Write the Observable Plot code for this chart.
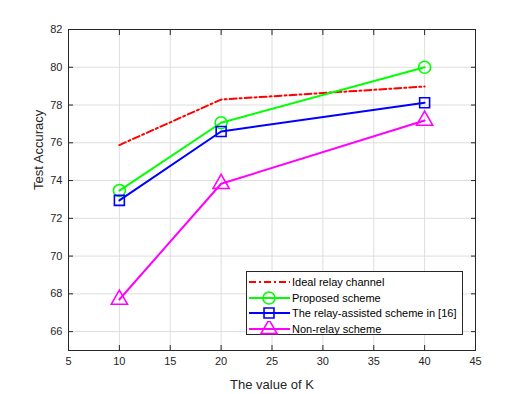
<!DOCTYPE html>
<html>
<head>
<meta charset="utf-8">
<script src="https://cdn.jsdelivr.net/npm/d3@7"></script>
<script src="https://cdn.jsdelivr.net/npm/@observablehq/plot@0.6"></script>
<style>
  html, body { margin: 0; padding: 0; background: #fff; }
  #wrap { position: relative; width: 525px; height: 394px; font-family: "Liberation Sans", Arial, sans-serif; }
  #legend { position: absolute; left: 246px; top: 271px; width: 217px; height: 64px; border: 1px solid #262626; background: #fff; box-sizing: border-box; }
  #legend .row { position: absolute; left: 0; height: 16px; display: flex; align-items: center; font-size: 11px; color: #000; white-space: nowrap; }
  #legend svg { display: block; flex: none; }
</style>
</head>
<body>
<div id="wrap"></div>
<script>
const K = [10, 20, 40];
const ideal = [75.88, 78.29, 78.98];
const proposed = [73.47, 77.06, 80.0];
const relayAssisted = [72.95, 76.6, 78.12];
const nonRelay = [67.7, 73.83, 77.18];
const seriesNames = ["Ideal relay channel", "Proposed scheme", "The relay-assisted scheme in [16]", "Non-relay scheme"];
const seriesValues = [ideal, proposed, relayAssisted, nonRelay];
const seriesColors = ["#ff0000", "#00ff00", "#0000ff", "#ff00ff"];
const seriesSymbols = [null, "circle", "square", "triangle"];
const xTicks = [5, 10, 15, 20, 25, 30, 35, 40, 45];
const yTicks = [66, 68, 70, 72, 74, 76, 78, 80, 82];

const data = [];
seriesNames.forEach((name, i) => {
  K.forEach((k, j) => data.push({series: name, idx: i, k, v: seriesValues[i][j]}));
});

const font = '"Liberation Sans", Arial, sans-serif';
const axisColor = "#262626";

const marks = [
  Plot.gridX(xTicks, {stroke: "#dedede", strokeOpacity: 1}),
  Plot.gridY(yTicks, {stroke: "#dedede", strokeOpacity: 1}),
  Plot.axisX(xTicks, {anchor: "bottom", tickSize: -5, tickPadding: 12, fontSize: 11, color: axisColor, label: null}),
  Plot.axisX(xTicks, {anchor: "top", tickSize: -5, tickFormat: () => "", label: null, color: axisColor}),
  Plot.axisY(yTicks, {anchor: "left", tickSize: -5, tickPadding: 11, fontSize: 11, color: axisColor, label: null}),
  Plot.axisY(yTicks, {anchor: "right", tickSize: -5, tickFormat: () => "", label: null, color: axisColor}),
  Plot.text(["The value of K"], {frameAnchor: "bottom", dy: 38, fontSize: 13, fill: axisColor, text: d => d}),
  Plot.text(["Test Accuracy"], {frameAnchor: "left", dx: -30, rotate: -90, fontSize: 13, fill: axisColor, text: d => d}),
  Plot.frame({stroke: axisColor, strokeWidth: 1})
];
seriesNames.forEach((name, i) => {
  const d = data.filter(r => r.idx === i);
  marks.push(Plot.line(d, {x: "k", y: "v", stroke: seriesColors[i], strokeWidth: 2,
    strokeDasharray: i === 0 ? "7,3,2,3" : null}));
  if (seriesSymbols[i]) {
    marks.push(Plot.dot(d, {x: "k", y: "v", stroke: seriesColors[i], strokeWidth: 1.6, fill: "none",
      symbol: seriesSymbols[i], r: seriesSymbols[i] === "circle" ? 6 : (seriesSymbols[i] === "square" ? 5.6 : 6)}));
  }
});

const chart = Plot.plot({
  width: 525, height: 394,
  marginLeft: 68, marginRight: 50, marginTop: 29, marginBottom: 44,
  style: {fontFamily: font, fontSize: "12px", color: axisColor, background: "#fff"},
  x: {domain: [5, 45], label: null},
  y: {domain: [65, 82], label: null},
  marks
});
const wrap = document.getElementById("wrap");
wrap.appendChild(chart);

// legend
const legend = document.createElement("div");
legend.id = "legend";
const rowY = [2, 18, 33, 49];
seriesNames.forEach((name, i) => {
  const row = document.createElement("div");
  row.className = "row";
  row.style.top = rowY[i] + "px";
  const svg = d3.create("svg").attr("width", 44).attr("height", 16);
  svg.append("line").attr("x1", 2).attr("x2", 43).attr("y1", 8).attr("y2", 8)
    .attr("stroke", seriesColors[i]).attr("stroke-width", 2)
    .attr("stroke-dasharray", i === 0 ? "7,3,2,3" : null);
  if (seriesSymbols[i]) {
    const sym = {circle: d3.symbolCircle, square: d3.symbolSquare, triangle: d3.symbolTriangle}[seriesSymbols[i]];
    const r = seriesSymbols[i] === "circle" ? 6 : (seriesSymbols[i] === "square" ? 5.6 : 6);
    svg.append("path").attr("d", d3.symbol(sym, Math.PI * r * r)())
      .attr("transform", "translate(22,8)").attr("fill", "none")
      .attr("stroke", seriesColors[i]).attr("stroke-width", 1.6);
  }
  row.appendChild(svg.node());
  const t = document.createElement("span");
  t.textContent = name;
  t.style.marginLeft = "1px";
  row.appendChild(t);
  legend.appendChild(row);
});
wrap.appendChild(legend);
</script>
</body>
</html>
